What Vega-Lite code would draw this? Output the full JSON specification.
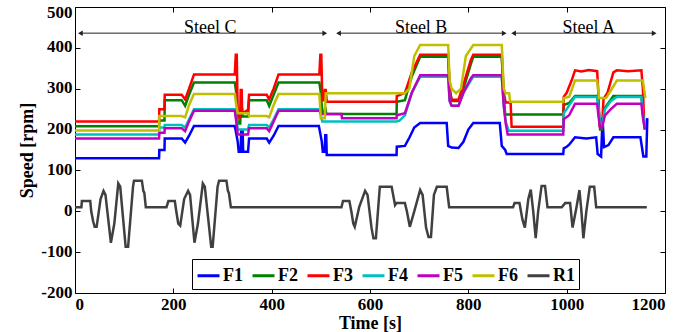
{
  "$schema": "https://vega.github.io/schema/vega-lite/v6.json",
  "width": 590,
  "height": 286,
  "autosize": {"type": "none"},
  "padding": {"left": 75, "top": 7, "right": 31, "bottom": 39},
  "background": "white",
  "config": {
    "view": {"stroke": "black", "strokeWidth": 1},
    "axis": {
      "grid": false, "domain": false, "tickColor": "black", "tickSize": -5, "tickWidth": 1,
      "labelFont": "Liberation Serif", "labelFontSize": 17, "labelFontWeight": "bold", "labelColor": "black",
      "titleFont": "Liberation Serif", "titleFontSize": 18, "titleFontWeight": "bold", "titleColor": "black"
    }
  },
  "datasets": {
    "series": [
      {"s":"F1","x":0,"y":130},{"s":"F1","x":171,"y":130},{"s":"F1","x":171.5,"y":150},{"s":"F1","x":182,"y":150},{"s":"F1","x":182.5,"y":178},{"s":"F1","x":217,"y":178},{"s":"F1","x":224,"y":168},{"s":"F1","x":232,"y":185},{"s":"F1","x":242,"y":209},{"s":"F1","x":325,"y":209},{"s":"F1","x":328,"y":190},{"s":"F1","x":331,"y":170},{"s":"F1","x":333,"y":146},{"s":"F1","x":337,"y":146},{"s":"F1","x":338,"y":198},{"s":"F1","x":341,"y":198},{"s":"F1","x":342,"y":146},{"s":"F1","x":352,"y":146},{"s":"F1","x":354,"y":178},{"s":"F1","x":390,"y":178},{"s":"F1","x":395,"y":168},{"s":"F1","x":404,"y":185},{"s":"F1","x":414,"y":209},{"s":"F1","x":496,"y":209},{"s":"F1","x":499,"y":190},{"s":"F1","x":502,"y":170},{"s":"F1","x":504,"y":146},{"s":"F1","x":508,"y":146},{"s":"F1","x":509,"y":186},{"s":"F1","x":511,"y":186},{"s":"F1","x":512,"y":138},{"s":"F1","x":654,"y":138},{"s":"F1","x":654.5,"y":158},{"s":"F1","x":671,"y":160},{"s":"F1","x":680,"y":180},{"s":"F1","x":690,"y":205},{"s":"F1","x":702,"y":216},{"s":"F1","x":756,"y":216},{"s":"F1","x":759,"y":160},{"s":"F1","x":766,"y":156},{"s":"F1","x":780,"y":155},{"s":"F1","x":790,"y":170},{"s":"F1","x":800,"y":200},{"s":"F1","x":810,"y":216},{"s":"F1","x":864,"y":216},{"s":"F1","x":868,"y":160},{"s":"F1","x":875,"y":150},{"s":"F1","x":878,"y":140},{"s":"F1","x":993,"y":140},{"s":"F1","x":994,"y":154},{"s":"F1","x":1000,"y":158},{"s":"F1","x":1005,"y":163},{"s":"F1","x":1013,"y":175},{"s":"F1","x":1017,"y":181},{"s":"F1","x":1040,"y":178},{"s":"F1","x":1060,"y":181},{"s":"F1","x":1063,"y":140},{"s":"F1","x":1070,"y":134},{"s":"F1","x":1073,"y":228},{"s":"F1","x":1076,"y":157},{"s":"F1","x":1085,"y":162},{"s":"F1","x":1095,"y":181},{"s":"F1","x":1150,"y":181},{"s":"F1","x":1156,"y":134},{"s":"F1","x":1162,"y":134},{"s":"F1","x":1164,"y":228},
      {"s":"F2","x":0,"y":208},{"s":"F2","x":171,"y":208},{"s":"F2","x":171.5,"y":222},{"s":"F2","x":182,"y":222},{"s":"F2","x":182.5,"y":272},{"s":"F2","x":217,"y":272},{"s":"F2","x":224,"y":258},{"s":"F2","x":232,"y":285},{"s":"F2","x":242,"y":315},{"s":"F2","x":325,"y":315},{"s":"F2","x":328,"y":290},{"s":"F2","x":331,"y":215},{"s":"F2","x":336,"y":215},{"s":"F2","x":337,"y":250},{"s":"F2","x":340,"y":250},{"s":"F2","x":341,"y":232},{"s":"F2","x":352,"y":232},{"s":"F2","x":354,"y":272},{"s":"F2","x":390,"y":272},{"s":"F2","x":395,"y":258},{"s":"F2","x":404,"y":285},{"s":"F2","x":414,"y":315},{"s":"F2","x":497,"y":315},{"s":"F2","x":500,"y":290},{"s":"F2","x":503,"y":240},{"s":"F2","x":507,"y":240},{"s":"F2","x":509,"y":255},{"s":"F2","x":511,"y":238},{"s":"F2","x":654,"y":238},{"s":"F2","x":654.5,"y":268},{"s":"F2","x":671,"y":272},{"s":"F2","x":685,"y":330},{"s":"F2","x":702,"y":378},{"s":"F2","x":759,"y":378},{"s":"F2","x":762,"y":300},{"s":"F2","x":766,"y":270},{"s":"F2","x":780,"y":270},{"s":"F2","x":790,"y":300},{"s":"F2","x":805,"y":360},{"s":"F2","x":810,"y":378},{"s":"F2","x":868,"y":378},{"s":"F2","x":871,"y":300},{"s":"F2","x":875,"y":237},{"s":"F2","x":993,"y":237},{"s":"F2","x":994,"y":260},{"s":"F2","x":1005,"y":265},{"s":"F2","x":1017,"y":282},{"s":"F2","x":1062,"y":282},{"s":"F2","x":1065,"y":250},{"s":"F2","x":1068,"y":200},{"s":"F2","x":1072,"y":200},{"s":"F2","x":1076,"y":250},{"s":"F2","x":1083,"y":262},{"s":"F2","x":1095,"y":282},{"s":"F2","x":1152,"y":282},{"s":"F2","x":1155,"y":240},{"s":"F2","x":1159,"y":200},
      {"s":"F3","x":0,"y":220},{"s":"F3","x":171,"y":220},{"s":"F3","x":171.5,"y":250},{"s":"F3","x":182,"y":250},{"s":"F3","x":182.5,"y":285},{"s":"F3","x":217,"y":285},{"s":"F3","x":224,"y":274},{"s":"F3","x":232,"y":300},{"s":"F3","x":242,"y":335},{"s":"F3","x":325,"y":335},{"s":"F3","x":327,"y":383},{"s":"F3","x":329,"y":383},{"s":"F3","x":331,"y":230},{"s":"F3","x":336,"y":230},{"s":"F3","x":337,"y":297},{"s":"F3","x":339,"y":297},{"s":"F3","x":340,"y":240},{"s":"F3","x":352,"y":248},{"s":"F3","x":354,"y":285},{"s":"F3","x":390,"y":285},{"s":"F3","x":395,"y":274},{"s":"F3","x":404,"y":300},{"s":"F3","x":414,"y":335},{"s":"F3","x":497,"y":335},{"s":"F3","x":499,"y":383},{"s":"F3","x":501,"y":383},{"s":"F3","x":503,"y":272},{"s":"F3","x":507,"y":272},{"s":"F3","x":508,"y":297},{"s":"F3","x":510,"y":297},{"s":"F3","x":512,"y":268},{"s":"F3","x":654,"y":268},{"s":"F3","x":654.5,"y":282},{"s":"F3","x":671,"y":290},{"s":"F3","x":685,"y":340},{"s":"F3","x":702,"y":383},{"s":"F3","x":759,"y":383},{"s":"F3","x":762,"y":300},{"s":"F3","x":766,"y":273},{"s":"F3","x":780,"y":273},{"s":"F3","x":790,"y":310},{"s":"F3","x":805,"y":370},{"s":"F3","x":810,"y":383},{"s":"F3","x":868,"y":383},{"s":"F3","x":872,"y":290},{"s":"F3","x":876,"y":266},{"s":"F3","x":886,"y":266},{"s":"F3","x":888,"y":207},{"s":"F3","x":993,"y":207},{"s":"F3","x":994,"y":280},{"s":"F3","x":1000,"y":290},{"s":"F3","x":1010,"y":320},{"s":"F3","x":1017,"y":345},{"s":"F3","x":1030,"y":342},{"s":"F3","x":1045,"y":346},{"s":"F3","x":1062,"y":343},{"s":"F3","x":1064,"y":300},{"s":"F3","x":1067,"y":210},{"s":"F3","x":1072,"y":210},{"s":"F3","x":1075,"y":275},{"s":"F3","x":1083,"y":290},{"s":"F3","x":1095,"y":340},{"s":"F3","x":1102,"y":345},{"s":"F3","x":1125,"y":343},{"s":"F3","x":1152,"y":345},{"s":"F3","x":1155,"y":300},{"s":"F3","x":1158,"y":210},
      {"s":"F4","x":0,"y":188},{"s":"F4","x":171,"y":188},{"s":"F4","x":171.5,"y":205},{"s":"F4","x":182,"y":205},{"s":"F4","x":182.5,"y":211},{"s":"F4","x":217,"y":211},{"s":"F4","x":224,"y":205},{"s":"F4","x":232,"y":225},{"s":"F4","x":242,"y":250},{"s":"F4","x":325,"y":250},{"s":"F4","x":328,"y":230},{"s":"F4","x":331,"y":200},{"s":"F4","x":352,"y":200},{"s":"F4","x":354,"y":211},{"s":"F4","x":390,"y":211},{"s":"F4","x":395,"y":205},{"s":"F4","x":404,"y":225},{"s":"F4","x":414,"y":250},{"s":"F4","x":497,"y":250},{"s":"F4","x":500,"y":235},{"s":"F4","x":503,"y":220},{"s":"F4","x":654,"y":220},{"s":"F4","x":660,"y":222},{"s":"F4","x":671,"y":235},{"s":"F4","x":685,"y":290},{"s":"F4","x":702,"y":329},{"s":"F4","x":759,"y":329},{"s":"F4","x":762,"y":270},{"s":"F4","x":766,"y":258},{"s":"F4","x":780,"y":258},{"s":"F4","x":790,"y":290},{"s":"F4","x":805,"y":320},{"s":"F4","x":810,"y":329},{"s":"F4","x":868,"y":329},{"s":"F4","x":872,"y":260},{"s":"F4","x":876,"y":220},{"s":"F4","x":882,"y":197},{"s":"F4","x":993,"y":197},{"s":"F4","x":994,"y":240},{"s":"F4","x":1000,"y":250},{"s":"F4","x":1010,"y":268},{"s":"F4","x":1017,"y":280},{"s":"F4","x":1062,"y":280},{"s":"F4","x":1065,"y":250},{"s":"F4","x":1068,"y":210},{"s":"F4","x":1072,"y":210},{"s":"F4","x":1078,"y":250},{"s":"F4","x":1090,"y":270},{"s":"F4","x":1102,"y":280},{"s":"F4","x":1152,"y":280},{"s":"F4","x":1155,"y":240},{"s":"F4","x":1159,"y":210},
      {"s":"F5","x":0,"y":178},{"s":"F5","x":171,"y":178},{"s":"F5","x":171.5,"y":192},{"s":"F5","x":182,"y":192},{"s":"F5","x":182.5,"y":203},{"s":"F5","x":217,"y":203},{"s":"F5","x":224,"y":196},{"s":"F5","x":232,"y":220},{"s":"F5","x":242,"y":246},{"s":"F5","x":325,"y":246},{"s":"F5","x":328,"y":220},{"s":"F5","x":331,"y":188},{"s":"F5","x":352,"y":188},{"s":"F5","x":354,"y":203},{"s":"F5","x":390,"y":203},{"s":"F5","x":395,"y":196},{"s":"F5","x":404,"y":220},{"s":"F5","x":414,"y":246},{"s":"F5","x":497,"y":246},{"s":"F5","x":500,"y":240},{"s":"F5","x":503,"y":238},{"s":"F5","x":542,"y":238},{"s":"F5","x":543,"y":228},{"s":"F5","x":654,"y":228},{"s":"F5","x":654.5,"y":235},{"s":"F5","x":671,"y":240},{"s":"F5","x":685,"y":290},{"s":"F5","x":702,"y":333},{"s":"F5","x":759,"y":333},{"s":"F5","x":762,"y":270},{"s":"F5","x":766,"y":258},{"s":"F5","x":780,"y":258},{"s":"F5","x":790,"y":290},{"s":"F5","x":805,"y":325},{"s":"F5","x":810,"y":333},{"s":"F5","x":868,"y":333},{"s":"F5","x":872,"y":260},{"s":"F5","x":876,"y":215},{"s":"F5","x":880,"y":188},{"s":"F5","x":993,"y":188},{"s":"F5","x":994,"y":225},{"s":"F5","x":1005,"y":235},{"s":"F5","x":1017,"y":263},{"s":"F5","x":1062,"y":263},{"s":"F5","x":1065,"y":230},{"s":"F5","x":1068,"y":205},{"s":"F5","x":1072,"y":205},{"s":"F5","x":1078,"y":235},{"s":"F5","x":1090,"y":250},{"s":"F5","x":1102,"y":263},{"s":"F5","x":1152,"y":263},{"s":"F5","x":1155,"y":230},{"s":"F5","x":1159,"y":200},
      {"s":"F6","x":0,"y":198},{"s":"F6","x":171,"y":198},{"s":"F6","x":171.5,"y":233},{"s":"F6","x":217,"y":233},{"s":"F6","x":224,"y":230},{"s":"F6","x":232,"y":260},{"s":"F6","x":242,"y":287},{"s":"F6","x":325,"y":287},{"s":"F6","x":328,"y":260},{"s":"F6","x":331,"y":240},{"s":"F6","x":352,"y":240},{"s":"F6","x":354,"y":233},{"s":"F6","x":390,"y":233},{"s":"F6","x":395,"y":230},{"s":"F6","x":404,"y":260},{"s":"F6","x":414,"y":287},{"s":"F6","x":497,"y":287},{"s":"F6","x":500,"y":228},{"s":"F6","x":508,"y":228},{"s":"F6","x":510,"y":289},{"s":"F6","x":654,"y":289},{"s":"F6","x":671,"y":289},{"s":"F6","x":680,"y":300},{"s":"F6","x":690,"y":380},{"s":"F6","x":702,"y":407},{"s":"F6","x":759,"y":407},{"s":"F6","x":762,"y":320},{"s":"F6","x":766,"y":300},{"s":"F6","x":775,"y":289},{"s":"F6","x":785,"y":300},{"s":"F6","x":795,"y":380},{"s":"F6","x":810,"y":407},{"s":"F6","x":868,"y":407},{"s":"F6","x":872,"y":300},{"s":"F6","x":876,"y":289},{"s":"F6","x":883,"y":289},{"s":"F6","x":885,"y":268},{"s":"F6","x":993,"y":268},{"s":"F6","x":994,"y":277},{"s":"F6","x":1005,"y":280},{"s":"F6","x":1017,"y":320},{"s":"F6","x":1062,"y":320},{"s":"F6","x":1066,"y":277},{"s":"F6","x":1080,"y":277},{"s":"F6","x":1092,"y":300},{"s":"F6","x":1102,"y":320},{"s":"F6","x":1155,"y":320},{"s":"F6","x":1160,"y":277},
      {"s":"R1","x":0,"y":10},{"s":"R1","x":13,"y":10},{"s":"R1","x":14,"y":25},{"s":"R1","x":31,"y":25},{"s":"R1","x":33,"y":0},{"s":"R1","x":37,"y":-25},{"s":"R1","x":40,"y":-38},{"s":"R1","x":44,"y":-38},{"s":"R1","x":52,"y":30},{"s":"R1","x":58,"y":50},{"s":"R1","x":62,"y":40},{"s":"R1","x":73,"y":-77},{"s":"R1","x":80,"y":-30},{"s":"R1","x":88,"y":68},{"s":"R1","x":92,"y":60},{"s":"R1","x":103,"y":-87},{"s":"R1","x":108,"y":-87},{"s":"R1","x":118,"y":60},{"s":"R1","x":120,"y":75},{"s":"R1","x":136,"y":75},{"s":"R1","x":139,"y":50},{"s":"R1","x":141,"y":45},{"s":"R1","x":144,"y":10},{"s":"R1","x":186,"y":10},{"s":"R1","x":190,"y":25},{"s":"R1","x":203,"y":25},{"s":"R1","x":206,"y":0},{"s":"R1","x":210,"y":-30},{"s":"R1","x":214,"y":-35},{"s":"R1","x":222,"y":30},{"s":"R1","x":230,"y":50},{"s":"R1","x":234,"y":40},{"s":"R1","x":243,"y":-77},{"s":"R1","x":250,"y":-30},{"s":"R1","x":260,"y":68},{"s":"R1","x":264,"y":60},{"s":"R1","x":277,"y":-87},{"s":"R1","x":280,"y":-87},{"s":"R1","x":290,"y":60},{"s":"R1","x":293,"y":75},{"s":"R1","x":308,"y":75},{"s":"R1","x":311,"y":50},{"s":"R1","x":313,"y":45},{"s":"R1","x":317,"y":10},{"s":"R1","x":542,"y":10},{"s":"R1","x":545,"y":25},{"s":"R1","x":558,"y":25},{"s":"R1","x":562,"y":0},{"s":"R1","x":566,"y":-30},{"s":"R1","x":569,"y":-38},{"s":"R1","x":578,"y":10},{"s":"R1","x":590,"y":50},{"s":"R1","x":595,"y":40},{"s":"R1","x":603,"y":-40},{"s":"R1","x":607,"y":-66},{"s":"R1","x":612,"y":-66},{"s":"R1","x":620,"y":60},{"s":"R1","x":644,"y":60},{"s":"R1","x":651,"y":15},{"s":"R1","x":654,"y":20},{"s":"R1","x":671,"y":20},{"s":"R1","x":675,"y":0},{"s":"R1","x":681,"y":-38},{"s":"R1","x":690,"y":0},{"s":"R1","x":702,"y":52},{"s":"R1","x":707,"y":40},{"s":"R1","x":714,"y":-40},{"s":"R1","x":719,"y":-63},{"s":"R1","x":724,"y":-63},{"s":"R1","x":730,"y":40},{"s":"R1","x":736,"y":60},{"s":"R1","x":756,"y":60},{"s":"R1","x":761,"y":10},{"s":"R1","x":891,"y":10},{"s":"R1","x":894,"y":20},{"s":"R1","x":904,"y":20},{"s":"R1","x":910,"y":-20},{"s":"R1","x":915,"y":-40},{"s":"R1","x":922,"y":30},{"s":"R1","x":927,"y":53},{"s":"R1","x":932,"y":0},{"s":"R1","x":937,"y":-66},{"s":"R1","x":942,"y":0},{"s":"R1","x":949,"y":62},{"s":"R1","x":956,"y":62},{"s":"R1","x":961,"y":10},{"s":"R1","x":990,"y":10},{"s":"R1","x":997,"y":20},{"s":"R1","x":1007,"y":20},{"s":"R1","x":1012,"y":-40},{"s":"R1","x":1020,"y":10},{"s":"R1","x":1026,"y":52},{"s":"R1","x":1030,"y":0},{"s":"R1","x":1034,"y":-66},{"s":"R1","x":1040,"y":0},{"s":"R1","x":1047,"y":60},{"s":"R1","x":1056,"y":60},{"s":"R1","x":1060,"y":10},{"s":"R1","x":1163,"y":10}
    ],
    "arrows": [
      {"label":"Steel C","x1":11,"x2":508,"y":436,"lx":275},
      {"label":"Steel B","x1":536,"x2":873,"y":436,"lx":704},
      {"label":"Steel A","x1":892,"x2":1178,"y":436,"lx":1045}
    ]
  },
  "layer": [
    {
      "data": {"name": "series"},
      "mark": {"type": "line", "strokeWidth": 2.5},
      "encoding": {
        "x": {"field": "x", "type": "quantitative", "scale": {"domain": [0, 1200], "nice": false},
              "axis": {"orient": "bottom", "values": [0,200,400,600,800,1000,1200], "labelExpr": "datum.value + ''", "title": "Time [s]", "labelPadding": 8, "titleY": 35, "titleBaseline": "alphabetic"}},
        "y": {"field": "y", "type": "quantitative", "scale": {"domain": [-200, 500], "nice": false},
              "axis": {"orient": "left", "values": [-200,-100,0,100,200,300,400,500], "labelExpr": "datum.value + ''", "title": "Speed [rpm]", "labelPadding": 8, "titlePadding": 4,
                       "labelOffset": {"condition": {"test": "datum.value === 500", "value": 5}, "value": -1}}},
        "color": {"field": "s", "type": "nominal",
                  "scale": {"domain": ["F1","F2","F3","F4","F5","F6","R1"], "range": ["#0000ff","#008000","#ff0000","#00bfbf","#bf00bf","#bfbf00","#404040"]},
                  "legend": {"orient": "none", "legendX": 117, "legendY": 252, "direction": "horizontal", "columns": 7, "title": null,
                             "strokeColor": "black", "fillColor": "white", "padding": 4, "symbolType": "stroke", "symbolSize": 484, "symbolStrokeWidth": 3,
                             "labelFont": "Liberation Serif", "labelFontSize": 18, "labelFontWeight": "bold", "labelColor": "black", "columnPadding": 3, "labelOffset": 2}}
      }
    },
    {
      "data": {"name": "arrows"},
      "mark": {"type": "rule", "color": "#222222", "strokeWidth": 1},
      "encoding": {
        "x": {"field": "x1", "type": "quantitative", "axis": {"orient": "top", "values": [0,200,400,600,800,1000,1200], "labels": false, "title": null}},
        "x2": {"field": "x2"},
        "y": {"field": "y", "type": "quantitative", "axis": {"orient": "right", "values": [-200,-100,0,100,200,300,400,500], "labels": false, "title": null}}
      }
    },
    {
      "data": {"name": "arrows"},
      "mark": {"type": "point", "shape": "triangle-left", "filled": true, "color": "#222222", "size": 30, "opacity": 1},
      "encoding": {
        "x": {"field": "x1", "type": "quantitative", "axis": null},
        "y": {"field": "y", "type": "quantitative", "axis": null}
      }
    },
    {
      "data": {"name": "arrows"},
      "mark": {"type": "point", "shape": "triangle-right", "filled": true, "color": "#222222", "size": 30, "opacity": 1},
      "encoding": {
        "x": {"field": "x2", "type": "quantitative", "axis": null},
        "y": {"field": "y", "type": "quantitative", "axis": null}
      }
    },
    {
      "data": {"name": "arrows"},
      "mark": {"type": "text", "font": "Liberation Serif", "fontSize": 18, "baseline": "alphabetic", "color": "black"},
      "encoding": {
        "x": {"field": "lx", "type": "quantitative", "axis": null},
        "y": {"field": "y", "type": "quantitative", "axis": null},
        "text": {"field": "label"}
      }
    }
  ],
  "resolve": {"axis": {"x": "independent", "y": "independent"}}
}
